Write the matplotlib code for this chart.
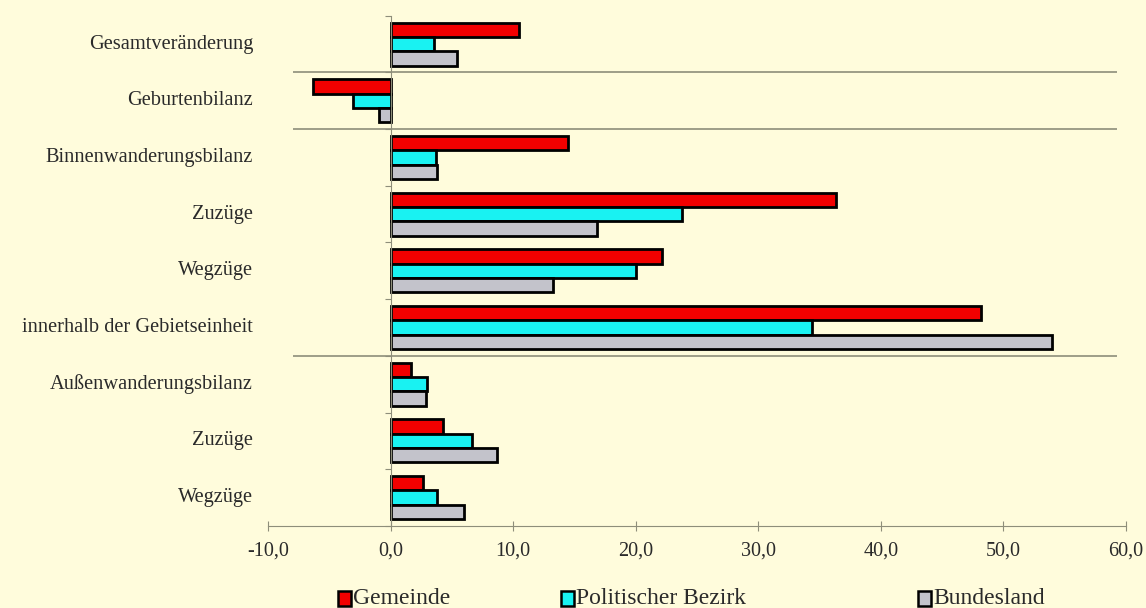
import numpy as np
import matplotlib.pyplot as plt
from matplotlib.patches import Rectangle

# Bevölkerungsveränderung nach Komponenten (je 1.000 Einwohner)
kategorien = ['Gesamtveränderung', 'Geburtenbilanz', 'Binnenwanderungsbilanz',
              'Zuzüge', 'Wegzüge', 'innerhalb der Gebietseinheit',
              'Außenwanderungsbilanz', 'Zuzüge', 'Wegzüge']
gemeinde = [10.5, -6.3, 14.5, 36.3, 22.1, 48.2, 1.7, 4.3, 2.65]
bezirk = [3.55, -3.1, 3.7, 23.8, 20.0, 34.4, 2.95, 6.6, 3.75]
bundesland = [5.45, -0.95, 3.75, 16.8, 13.25, 53.95, 2.85, 8.65, 5.95]
serien = ['Gemeinde', 'Politischer Bezirk', 'Bundesland']
farben = ['#F20000', '#19F2F2', '#C3C3CB']
xticks = np.arange(-10, 61, 10)

bg = '#FFFCDC'
linie = '#8E8E7A'
textfarbe = '#2A2A2A'
schrift = 'Liberation Serif'

fig = plt.figure(figsize=(11.46, 6.08), dpi=100, facecolor=bg)
ax = fig.add_axes([0.2339, 0.1349, 0.7487, 0.8393], facecolor=bg)

y = np.arange(len(kategorien))
h = 0.253
for i, (werte, farbe) in enumerate(zip([gemeinde, bezirk, bundesland], farben)):
    ax.barh(y + (i - 1) * h, werte, height=h, color=farbe,
            edgecolor='black', linewidth=2.0, zorder=3)

# Trennlinien zwischen den Blöcken
ax.hlines([0.5, 1.5, 5.5], -8.0, 59.3, color=linie, linewidth=1.2, zorder=2)

ax.set_xlim(-10, 60)
ax.set_ylim(len(kategorien) - 0.5, -0.5)

for s in ['top', 'right']:
    ax.spines[s].set_visible(False)
ax.spines['left'].set_position(('data', 0))
ax.spines['left'].set_color(linie)
ax.spines['bottom'].set_color(linie)
ax.spines['left'].set_zorder(4)

ax.set_yticks(np.arange(-0.5, len(kategorien), 1.0))
ax.set_yticklabels([])
ax.tick_params(axis='y', direction='out', length=4, color=linie)

ax.set_xticks(xticks)
ax.set_xticklabels([f'{v:.1f}'.replace('.', ',') for v in xticks],
                   fontfamily=schrift, fontsize=14.5, color=textfarbe)
ax.tick_params(axis='x', direction='inout', length=7, color=linie, pad=8)

for yi, name in zip(y, kategorien):
    ax.text(-0.0175, yi, name, transform=ax.get_yaxis_transform(),
            ha='right', va='center', fontfamily=schrift, fontsize=14.7,
            color=textfarbe)

# Legende unten
leg_x = [338, 561, 918]
for lx, name, farbe in zip(leg_x, serien, farben):
    fig.patches.append(Rectangle((lx / 1146, 1 - 606 / 608), 13 / 1146, 15 / 608,
                                 transform=fig.transFigure, facecolor=farbe,
                                 edgecolor='black', linewidth=1.8))
    fig.text((lx + 15) / 1146, 1 - 599 / 608, name, ha='left', va='center',
             fontfamily=schrift, fontsize=17, color=textfarbe)

fig.savefig('out.png', dpi=100, facecolor=bg)
